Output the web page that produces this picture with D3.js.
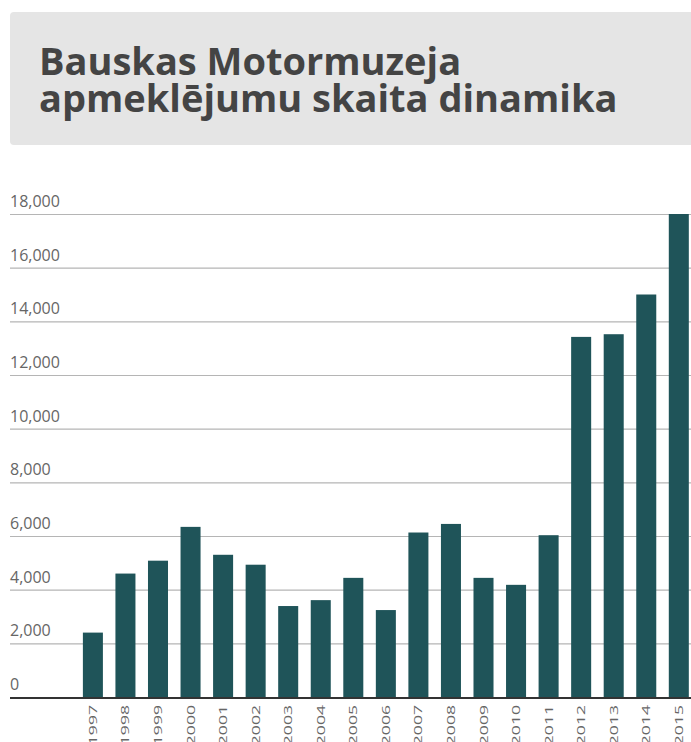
<!doctype html>
<html>
<head>
  <meta charset="utf-8">
  <script src="https://d3js.org/d3.v7.min.js"></script>
  <style>
    body { margin: 0; background: #fff; font-family: "Open Sans", sans-serif; overflow: hidden; }
  </style>
</head>
<body>
<svg id="chart" width="691" height="742"></svg>
<script>
// data
var years = ["1997","1998","1999","2000","2001","2002","2003","2004","2005","2006",
             "2007","2008","2009","2010","2011","2012","2013","2014","2015"];
var visitors = [2400, 4600, 5080, 6340, 5300, 4930, 3390, 3610, 4440, 3240,
                6130, 6450, 4440, 4180, 6030, 13420, 13520, 15000, 18000];
var yTicks = [0, 2000, 4000, 6000, 8000, 10000, 12000, 14000, 16000, 18000];
var titleLines = ["Bauskas Motormuzeja", "apmeklējumu skaita dinamika"];

var svg = d3.select("#chart");

// title box
svg.append("rect")
  .attr("x", 10).attr("y", 12)
  .attr("width", 700).attr("height", 133)
  .attr("rx", 4)
  .attr("fill", "#e5e5e5");

svg.append("g").selectAll("text")
  .data(titleLines)
  .enter().append("text")
  .attr("x", 39)
  .attr("y", function(d, i) { return 75 + i * 37; })
  .attr("fill", "#444")
  .style("font-size", "38px")
  .style("font-weight", "700")
  .text(function(d) { return d; });

// scales
var x = d3.scaleBand()
  .domain(years)
  .range([76.7, 695])
  .paddingInner(0.385)
  .paddingOuter(0.19);

var y = d3.scaleLinear()
  .domain([0, 18000])
  .range([697, 214]);

// grid + y labels
var grid = svg.append("g");
grid.selectAll("line")
  .data(yTicks.slice(1))
  .enter().append("line")
  .attr("x1", 10).attr("x2", 691)
  .attr("y1", function(d) { return y(d) + 0.5; })
  .attr("y2", function(d) { return y(d) + 0.5; })
  .attr("stroke", "#b5b5b5")
  .attr("stroke-width", 1.2);

grid.selectAll("text")
  .data(yTicks)
  .enter().append("text")
  .attr("x", 10)
  .attr("y", function(d) { return y(d) - 7; })
  .attr("fill", "#666")
  .style("font-size", "16px")
  .text(d3.format(","));

// bars
svg.append("g").selectAll("rect")
  .data(visitors)
  .enter().append("rect")
  .attr("x", function(d, i) { return x(years[i]); })
  .attr("width", x.bandwidth())
  .attr("y", function(d) { return y(d); })
  .attr("height", function(d) { return y(0) - y(d); })
  .attr("fill", "#1f5459");

// baseline
svg.append("line")
  .attr("x1", 10).attr("x2", 691)
  .attr("y1", y(0) + 1).attr("y2", y(0) + 1)
  .attr("stroke", "#333")
  .attr("stroke-width", 2);

// x labels, rotated and stretched along the text like in the original
svg.append("g").selectAll("text")
  .data(years)
  .enter().append("text")
  .attr("transform", function(d) {
    return "translate(" + (x(d) + x.bandwidth() / 2 + 4) + "," + 705 + ") rotate(-90) scale(1.6,1)";
  })
  .attr("text-anchor", "end")
  .attr("fill", "#666")
  .style("font-size", "11px")
  .text(function(d) { return d; });
</script>
</body>
</html>
